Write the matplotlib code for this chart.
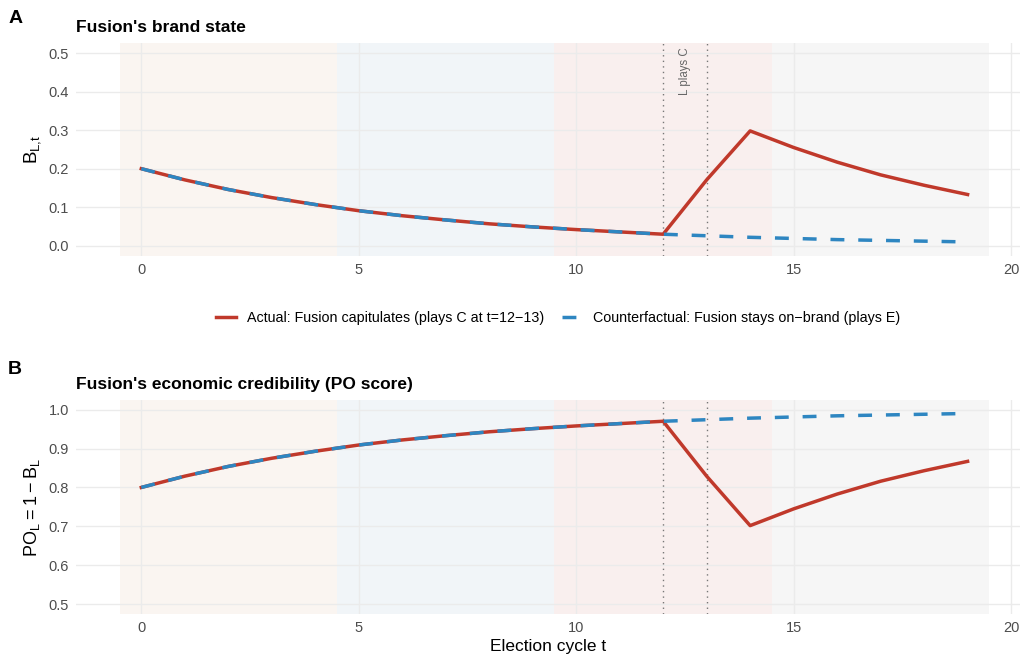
import numpy as np
import matplotlib
matplotlib.use("Agg")
import matplotlib.pyplot as plt
from matplotlib.lines import Line2D

plt.rcParams['font.family'] = ['Liberation Sans', 'DejaVu Sans']

# data
t = list(range(20))
brand_cf = [0.200, 0.171, 0.146, 0.125, 0.107, 0.091, 0.078, 0.067, 0.057, 0.049,
            0.042, 0.036, 0.030, 0.026, 0.022, 0.019, 0.016, 0.014, 0.012, 0.010]
brand_actual = [0.200, 0.171, 0.146, 0.125, 0.107, 0.091, 0.078, 0.067, 0.057, 0.049,
                0.042, 0.036, 0.030, 0.171, 0.298, 0.255, 0.217, 0.184, 0.157, 0.133]
po_cf = [1 - b for b in brand_cf]
po_actual = [1 - b for b in brand_actual]

band_edges = [(-0.5, 4.5), (4.5, 9.5), (9.5, 14.5), (14.5, 19.5)]
band_colors = ['#faf5f1', '#f1f5f8', '#f9efee', '#f6f6f6']
capitulation = [12, 13]

legend_labels = ['Actual: Fusion capitulates (plays C at t=12\u221213)',
                 'Counterfactual: Fusion stays on\u2212brand (plays E)']

red = '#c0392b'
blue = '#2e86c1'
grid_col = '#ebebeb'
tick_col = '#4d4d4d'

fig = plt.figure(figsize=(10.28, 6.62), dpi=100)
axA = fig.add_axes([0.074, 0.613, 0.918, 0.322])
axB = fig.add_axes([0.074, 0.0725, 0.918, 0.3235])


def style(ax, ylim, yticks):
    for (a, b), c in zip(band_edges, band_colors):
        ax.axvspan(a, b, color=c, lw=0, zorder=0)
    ax.set_xlim(-1.5, 20.2)
    ax.set_ylim(*ylim)
    ax.set_xticks([0, 5, 10, 15, 20])
    ax.set_yticks(yticks)
    ax.set_yticklabels([f'{v:.1f}' for v in yticks])
    ax.grid(True, color=grid_col, lw=1.0, zorder=0.5)
    ax.set_axisbelow(True)
    for s in ax.spines.values():
        s.set_visible(False)
    ax.tick_params(length=0, labelsize=10.5, colors=tick_col, pad=5)
    for x in capitulation:
        ax.axvline(x, color='#777777', lw=1.0, ls=(0, (1, 3)), zorder=2)


style(axA, (-0.027, 0.526), [0.0, 0.1, 0.2, 0.3, 0.4, 0.5])
axA.plot(t, brand_actual, color=red, lw=2.5, zorder=3)
axA.plot(t, brand_cf, color=blue, lw=2.5, ls=(0, (4, 4)), zorder=4)
axA.text(12.5, 0.515, 'L plays C', rotation=90, ha='center', va='top',
         fontsize=8.3, color='#666666')
axA.set_ylabel('$\\mathregular{B_{L{,}t}}$', fontsize=13.5, labelpad=4)
axA.set_title("Fusion's brand state", loc='left', fontsize=12.5,
              fontweight='bold', pad=8)

style(axB, (0.475, 1.025), [0.5, 0.6, 0.7, 0.8, 0.9, 1.0])
axB.plot(t, po_actual, color=red, lw=2.5, zorder=3)
axB.plot(t, po_cf, color=blue, lw=2.5, ls=(0, (4, 4)), zorder=4)
axB.set_ylabel('$\\mathregular{PO_L = 1 - B_L}$', fontsize=13, labelpad=5)
axB.set_xlabel('Election cycle t', fontsize=12.5, labelpad=3)
axB.set_title("Fusion's economic credibility (PO score)", loc='left',
              fontsize=12.5, fontweight='bold', pad=8)

fig.text(0.008, 0.985, 'A', fontsize=14, fontweight='bold', va='top')
fig.text(0.008, 0.455, 'B', fontsize=14, fontweight='bold', va='top')

handles = [Line2D([0], [0], color=red, lw=2.5),
           Line2D([0], [0], color=blue, lw=2.5, ls=(0, (4, 4)))]
fig.legend(handles, legend_labels, loc='center', bbox_to_anchor=(0.543, 0.519),
           ncol=2, frameon=False, fontsize=10.3, handlelength=1.4,
           columnspacing=1.2, handletextpad=0.8)

fig.savefig('out.png', dpi=100)
